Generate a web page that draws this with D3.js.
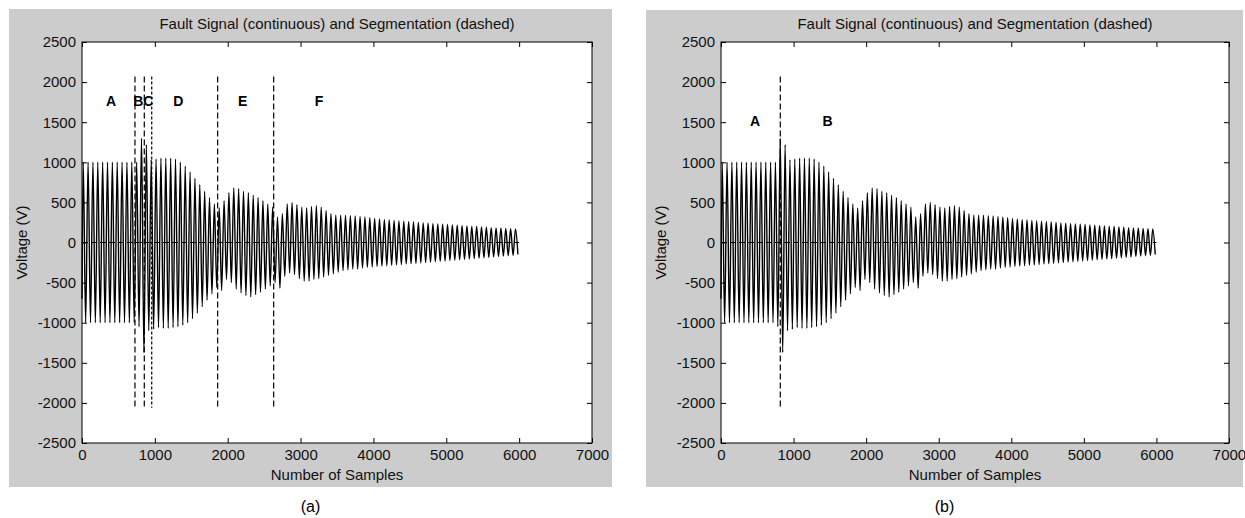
<!DOCTYPE html>
<html>
<head>
<meta charset="utf-8">
<script src="https://cdn.jsdelivr.net/npm/d3@7"></script>
<style>
  body { margin: 0; background: #fff; }
  text { font-family: "Liberation Sans", Arial, sans-serif; }
</style>
</head>
<body>
<svg id="fig" width="1245" height="518"></svg>
<script>
// axis ticks
var xTicks = [0, 1000, 2000, 3000, 4000, 5000, 6000, 7000];
var yTicks = [-2500, -2000, -1500, -1000, -500, 0, 500, 1000, 1500, 2000, 2500];

// fault signal, one cycle at a time (positive and negative peak)
var samplesPerCycle = 6000 / 90;
var startValue = -700;
var posPeaks = [
  1000, 1000, 1000, 1000, 1000, 1000, 1000, 1000, 1000, 1000,
  1000, 1000, 1300, 1220, 1030, 1040, 1050, 1050, 1050, 1040,
  1000, 950, 880, 800, 720, 640, 560, 480, 430, 520,
  620, 680, 670, 640, 620, 590, 560, 520, 480, 440,
  320, 360, 480, 500, 470, 440, 430, 450, 460, 440,
  400, 360, 340, 340, 340, 335, 330, 325, 320, 310,
  300, 295, 285, 280, 275, 270, 265, 260, 255, 250,
  245, 240, 235, 230, 228, 225, 220, 215, 210, 205,
  200, 200, 195, 190, 185, 182, 180, 175, 172, 170
];
var negPeaks = [
  -1000, -1000, -1000, -1000, -1000, -1000, -1000, -1000, -1000, -1000,
  -1000, -1050, -1370, -1100, -1080, -1060, -1070, -1070, -1060, -1050,
  -1030, -1000, -950, -880, -800, -720, -640, -560, -600, -460,
  -500, -580, -630, -660, -680, -650, -620, -580, -540, -500,
  -570, -420, -380, -400, -450, -480, -480, -460, -450, -430,
  -410, -390, -370, -350, -340, -330, -330, -320, -310, -305,
  -300, -295, -290, -285, -280, -275, -270, -265, -260, -255,
  -250, -245, -240, -235, -230, -225, -220, -215, -210, -205,
  -200, -195, -190, -185, -180, -175, -170, -165, -160, -150
];
var zeroLineEnd = 6000;
var segTop = 2070, segBottom = -2060;

// segmentation, panel (a)
var segA = [727, 855, 957, 1862, 2631];
var segAStyle = ["6,3", "6,3", "3,2", "6,3", "6,3"];
var labelsA = ["A", "B", "C", "D", "E", "F"];
var labelPosA = [398, 773, 910, 1322, 2205, 3253];
var labelValA = 1760;

// segmentation, panel (b)
var segB = [817];
var segBStyle = ["6,3"];
var labelsB = ["A", "B"];
var labelPosB = [468, 1470];
var labelValB = 1520;

var title = "Fault Signal (continuous) and Segmentation (dashed)";

var signal = [[0, startValue]];
posPeaks.forEach(function(p, k) {
    signal.push([k * samplesPerCycle + samplesPerCycle / 4, p]);
    signal.push([k * samplesPerCycle + samplesPerCycle * 3 / 4, negPeaks[k]]);
});

var svg = d3.select("#fig");

function panel(opt) {
    var g = svg.append("g");
    g.append("rect")
        .attr("x", opt.bg[0]).attr("y", opt.bg[1])
        .attr("width", opt.bg[2]).attr("height", opt.bg[3])
        .attr("fill", "#cccccc");

    var x = d3.scaleLinear().domain([0, 7000]).range([opt.left, opt.right]),
        y = d3.scaleLinear().domain([-2500, 2500]).range([opt.bottom, opt.top]);

    g.append("rect")
        .attr("x", opt.left).attr("y", opt.top)
        .attr("width", opt.right - opt.left).attr("height", opt.bottom - opt.top)
        .attr("fill", "#fff");

    var line = d3.line()
        .curve(d3.curveMonotoneX)
        .x(function(d) { return x(d[0]); })
        .y(function(d) { return y(d[1]); });

    g.append("path")
        .datum(signal)
        .attr("fill", "none")
        .attr("stroke", "#000")
        .attr("stroke-width", 1.4)
        .attr("d", line);

    // zero dashed line
    g.append("line")
        .attr("x1", x(0)).attr("x2", x(zeroLineEnd))
        .attr("y1", y(0)).attr("y2", y(0))
        .attr("stroke", "#000")
        .attr("stroke-width", 1.2)
        .attr("stroke-dasharray", "6,3");

    opt.seg.forEach(function(s, i) {
        g.append("line")
            .attr("x1", x(s)).attr("x2", x(s))
            .attr("y1", y(segTop)).attr("y2", y(segBottom))
            .attr("stroke", "#000")
            .attr("stroke-width", 1.2)
            .attr("stroke-dasharray", opt.segStyle[i]);
    });

    opt.labels.forEach(function(l, i) {
        g.append("text")
            .attr("x", x(opt.labelPos[i]))
            .attr("y", y(opt.labelVal))
            .attr("text-anchor", "middle")
            .attr("dominant-baseline", "central")
            .attr("font-weight", "bold")
            .attr("font-size", 14)
            .text(l);
    });

    // axes, MATLAB style: ticks inside on all four sides
    var fmt = function(d) { return String(d); };
    g.append("g")
        .attr("transform", "translate(0," + opt.bottom + ")")
        .call(d3.axisBottom(x).tickValues(xTicks).tickSize(-5).tickPadding(6).tickFormat(fmt))
        .call(function(a) { a.select(".domain").remove(); });
    g.append("g")
        .attr("transform", "translate(0," + opt.top + ")")
        .call(d3.axisTop(x).tickValues(xTicks).tickSize(-5).tickFormat(""))
        .call(function(a) { a.select(".domain").remove(); });
    g.append("g")
        .attr("transform", "translate(" + opt.left + ",0)")
        .call(d3.axisLeft(y).tickValues(yTicks).tickSize(-5).tickPadding(6).tickFormat(fmt))
        .call(function(a) { a.select(".domain").remove(); });
    g.append("g")
        .attr("transform", "translate(" + opt.right + ",0)")
        .call(d3.axisRight(y).tickValues(yTicks).tickSize(-5).tickFormat(""))
        .call(function(a) { a.select(".domain").remove(); });

    g.selectAll(".tick text")
        .attr("font-family", "Liberation Sans, Arial, sans-serif")
        .attr("font-size", 15)
        .attr("fill", "#111");

    g.append("rect")
        .attr("x", opt.left).attr("y", opt.top)
        .attr("width", opt.right - opt.left).attr("height", opt.bottom - opt.top)
        .attr("fill", "none")
        .attr("stroke", "#000");

    var cx = (opt.left + opt.right) / 2;
    g.append("text")
        .attr("x", cx).attr("y", opt.top - 13)
        .attr("text-anchor", "middle")
        .attr("font-size", 15)
        .attr("fill", "#111")
        .text(title);
    g.append("text")
        .attr("x", cx).attr("y", opt.bottom + 37)
        .attr("text-anchor", "middle")
        .attr("font-size", 15)
        .attr("fill", "#111")
        .text("Number of Samples");
    g.append("text")
        .attr("transform", "translate(" + (opt.left - 55) + "," + ((opt.top + opt.bottom) / 2) + ") rotate(-90)")
        .attr("text-anchor", "middle")
        .attr("font-size", 15)
        .attr("fill", "#111")
        .text("Voltage (V)");
    g.append("text")
        .attr("x", opt.bg[0] + opt.bg[2] / 2).attr("y", 512)
        .attr("text-anchor", "middle")
        .attr("font-family", "Liberation Serif, Times New Roman, serif")
        .attr("font-size", 16)
        .text(opt.caption);
}

panel({
    bg: [9, 9, 603, 478],
    left: 82, right: 592, top: 42, bottom: 443,
    seg: segA, segStyle: segAStyle,
    labels: labelsA, labelPos: labelPosA, labelVal: labelValA,
    caption: "(a)"
});
panel({
    bg: [646, 10, 597, 477],
    left: 721, right: 1229, top: 42, bottom: 443,
    seg: segB, segStyle: segBStyle,
    labels: labelsB, labelPos: labelPosB, labelVal: labelValB,
    caption: "(b)"
});
</script>
</body>
</html>
